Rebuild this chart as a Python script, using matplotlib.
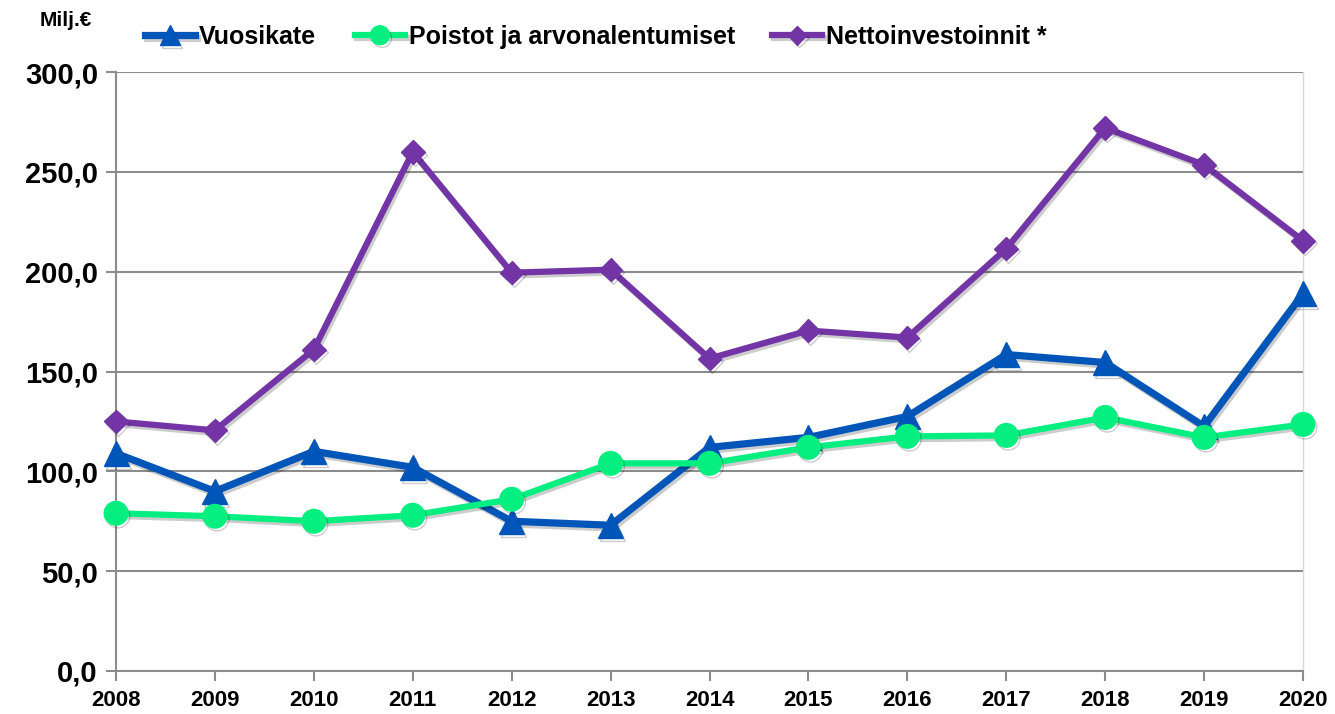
import matplotlib
matplotlib.use("Agg")
import matplotlib.pyplot as plt
from matplotlib import patheffects as pe

years = [2008, 2009, 2010, 2011, 2012, 2013, 2014, 2015, 2016, 2017, 2018, 2019, 2020]
vuosikate = [109, 90, 110, 102, 75, 73, 112, 117, 127.5, 158.5, 154.5, 122.5, 189]
poistot = [79, 77.5, 75, 78, 86, 104, 104, 112, 117.5, 118, 127, 117, 123.5]
netto = [125, 120.5, 161, 260, 199.5, 201, 156.5, 170.5, 167, 211.5, 272, 253.5, 215.5]
yticks = [0, 50, 100, 150, 200, 250, 300]
ytick_labels = ["0,0", "50,0", "100,0", "150,0", "200,0", "250,0", "300,0"]
series_labels = ["Vuosikate", "Poistot ja arvonalentumiset", "Nettoinvestoinnit *"]

FONT = ["Liberation Sans Narrow", "Liberation Sans", "DejaVu Sans"]
plt.rcParams['font.family'] = FONT

fig = plt.figure(figsize=(13.35, 7.14), dpi=100)
ax = fig.add_axes([116/1335, 1-671/714, (1303-116)/1335, (671-72)/714])

shadow = [pe.SimpleLineShadow(offset=(1.5, -2), alpha=0.2, shadow_color="black"), pe.Normal()]

h1, = ax.plot(years, vuosikate, color="#0056B8", lw=5.2, marker="^", ms=18,
              label=series_labels[0], clip_on=False, zorder=3, path_effects=shadow)
h2, = ax.plot(years, poistot, color="#05EE80", lw=4.5, marker="o", ms=17,
              label=series_labels[1], clip_on=False, zorder=3, path_effects=shadow)
h3, = ax.plot(years, netto, color="#7335A6", lw=4.5, marker="D", ms=12,
              label=series_labels[2], clip_on=False, zorder=4, path_effects=shadow)

ax.set_xlim(2008, 2020)
ax.set_ylim(0, 300)
ax.set_xticks(years)
ax.set_xticklabels([str(y) for y in years], fontsize=16, fontweight="bold")
ax.set_yticks(yticks)
ax.set_yticklabels(ytick_labels, fontsize=21, fontweight="bold")
ax.grid(axis="y", color="#8c8c8c", lw=1.5, zorder=0)
ax.set_axisbelow(True)
ax.spines["top"].set_visible(False)
ax.spines["right"].set_color("#d9d9d9")
ax.spines["right"].set_linewidth(1)
ax.spines["left"].set_color("#8c8c8c")
ax.spines["left"].set_linewidth(1.5)
ax.spines["bottom"].set_color("#8c8c8c")
ax.spines["bottom"].set_linewidth(1.5)
ax.tick_params(axis="x", length=7, width=1.5, color="#8c8c8c", pad=7)
ax.tick_params(axis="y", length=7, width=1.5, color="#8c8c8c", pad=6)

fig.text(40/1335, 1-20/714, "Milj.€", fontsize=15, fontweight="bold", va="center", ha="left")

for h, x0 in [(h1, 145), (h2, 355), (h3, 772)]:
    fig.legend(handles=[h], loc="center left", bbox_to_anchor=(x0/1335, 1-37/714),
               frameon=False, prop={"size": 18, "weight": "bold"}, borderpad=0,
               borderaxespad=0, handlelength=2.0, handletextpad=0.15, markerscale=0.8)

fig.savefig("out.png", dpi=100)
